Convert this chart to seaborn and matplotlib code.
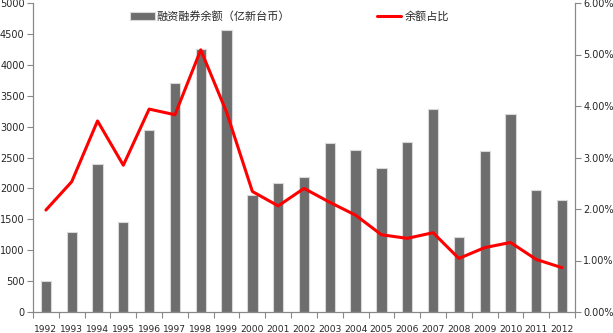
import matplotlib
matplotlib.use("Agg")
import matplotlib.pyplot as plt
import seaborn as sns
import numpy as np
import pandas as pd
from matplotlib.ticker import FuncFormatter, MultipleLocator, FixedLocator

years = [str(y) for y in range(1992, 2013)]
balance = [500, 1300, 2400, 1450, 2950, 3710, 4250, 4560, 1900, 2090, 2180,
           2740, 2620, 2330, 2750, 3290, 1210, 2600, 3200, 1970, 1820]
ratio = [1.98, 2.53, 3.71, 2.85, 3.94, 3.83, 5.09, 3.88, 2.34, 2.06, 2.40,
         2.13, 1.88, 1.50, 1.43, 1.54, 1.04, 1.25, 1.35, 1.02, 0.86]
bar_label = "融资融券余额（亿新台币）"
line_label = "余额占比"

sns.set_style("white")
plt.rcParams['font.family'] = ['Noto Sans CJK SC', 'DejaVu Sans']

df = pd.DataFrame({"year": years, "balance": balance, "ratio": ratio})

fig = plt.figure(figsize=(6.13, 3.33), dpi=100)
ax = fig.add_axes([33/613, 21/333, (575-33)/613, (312-3)/333])

sns.barplot(data=df, x="year", y="balance", color="#6d6d6d", width=0.4,
            edgecolor="#d9d9d9", linewidth=0.8, saturation=1, ax=ax,
            label=bar_label)
ax.set_xlim(-0.5, len(years) - 0.5)
ax.set_ylim(0, 5000)
ax.yaxis.set_major_locator(MultipleLocator(500))
ax.set_xlabel("")
ax.set_ylabel("")

ax2 = ax.twinx()
sns.lineplot(x=np.arange(len(years)), y=df["ratio"], color="#ff0000",
             linewidth=2.2, ax=ax2, label=line_label)
ax2.set_ylim(0, 6)
ax2.yaxis.set_major_locator(MultipleLocator(1))
ax2.yaxis.set_major_formatter(FuncFormatter(lambda v, p: f"{v:.2f}%"))
ax2.set_ylabel("")

for a in (ax, ax2):
    for s in a.spines.values():
        s.set_color("#888888")
        s.set_linewidth(0.8)
    a.spines["top"].set_visible(False)

ax.tick_params(axis="y", left=True, length=4, width=0.8, color="#888888",
               labelsize=7, pad=2)
ax2.tick_params(axis="y", right=True, length=4, width=0.8, color="#888888",
                labelsize=7, pad=2)
ax.xaxis.set_major_locator(FixedLocator(np.arange(len(years))))
ax.set_xticks(np.arange(-0.5, len(years), 1.0), minor=True)
ax.tick_params(axis="x", which="major", bottom=False, labelsize=6.6, pad=6)
ax.tick_params(axis="x", which="minor", bottom=True, length=4, width=0.8,
               color="#888888")
for t in ax.get_xticklabels() + ax.get_yticklabels() + ax2.get_yticklabels():
    t.set_family(['DejaVu Sans'])

ax.legend(loc="upper left", bbox_to_anchor=(0.165, 1.0), frameon=False,
          fontsize=8, handlelength=2.2, handleheight=0.8,
          handletextpad=0.2, borderaxespad=0.3)
ax2.legend(loc="upper left", bbox_to_anchor=(0.62, 1.0), frameon=False,
           fontsize=8, handlelength=2.2, handletextpad=0.3,
           borderaxespad=0.3)

fig.savefig("out.png", dpi=100)
